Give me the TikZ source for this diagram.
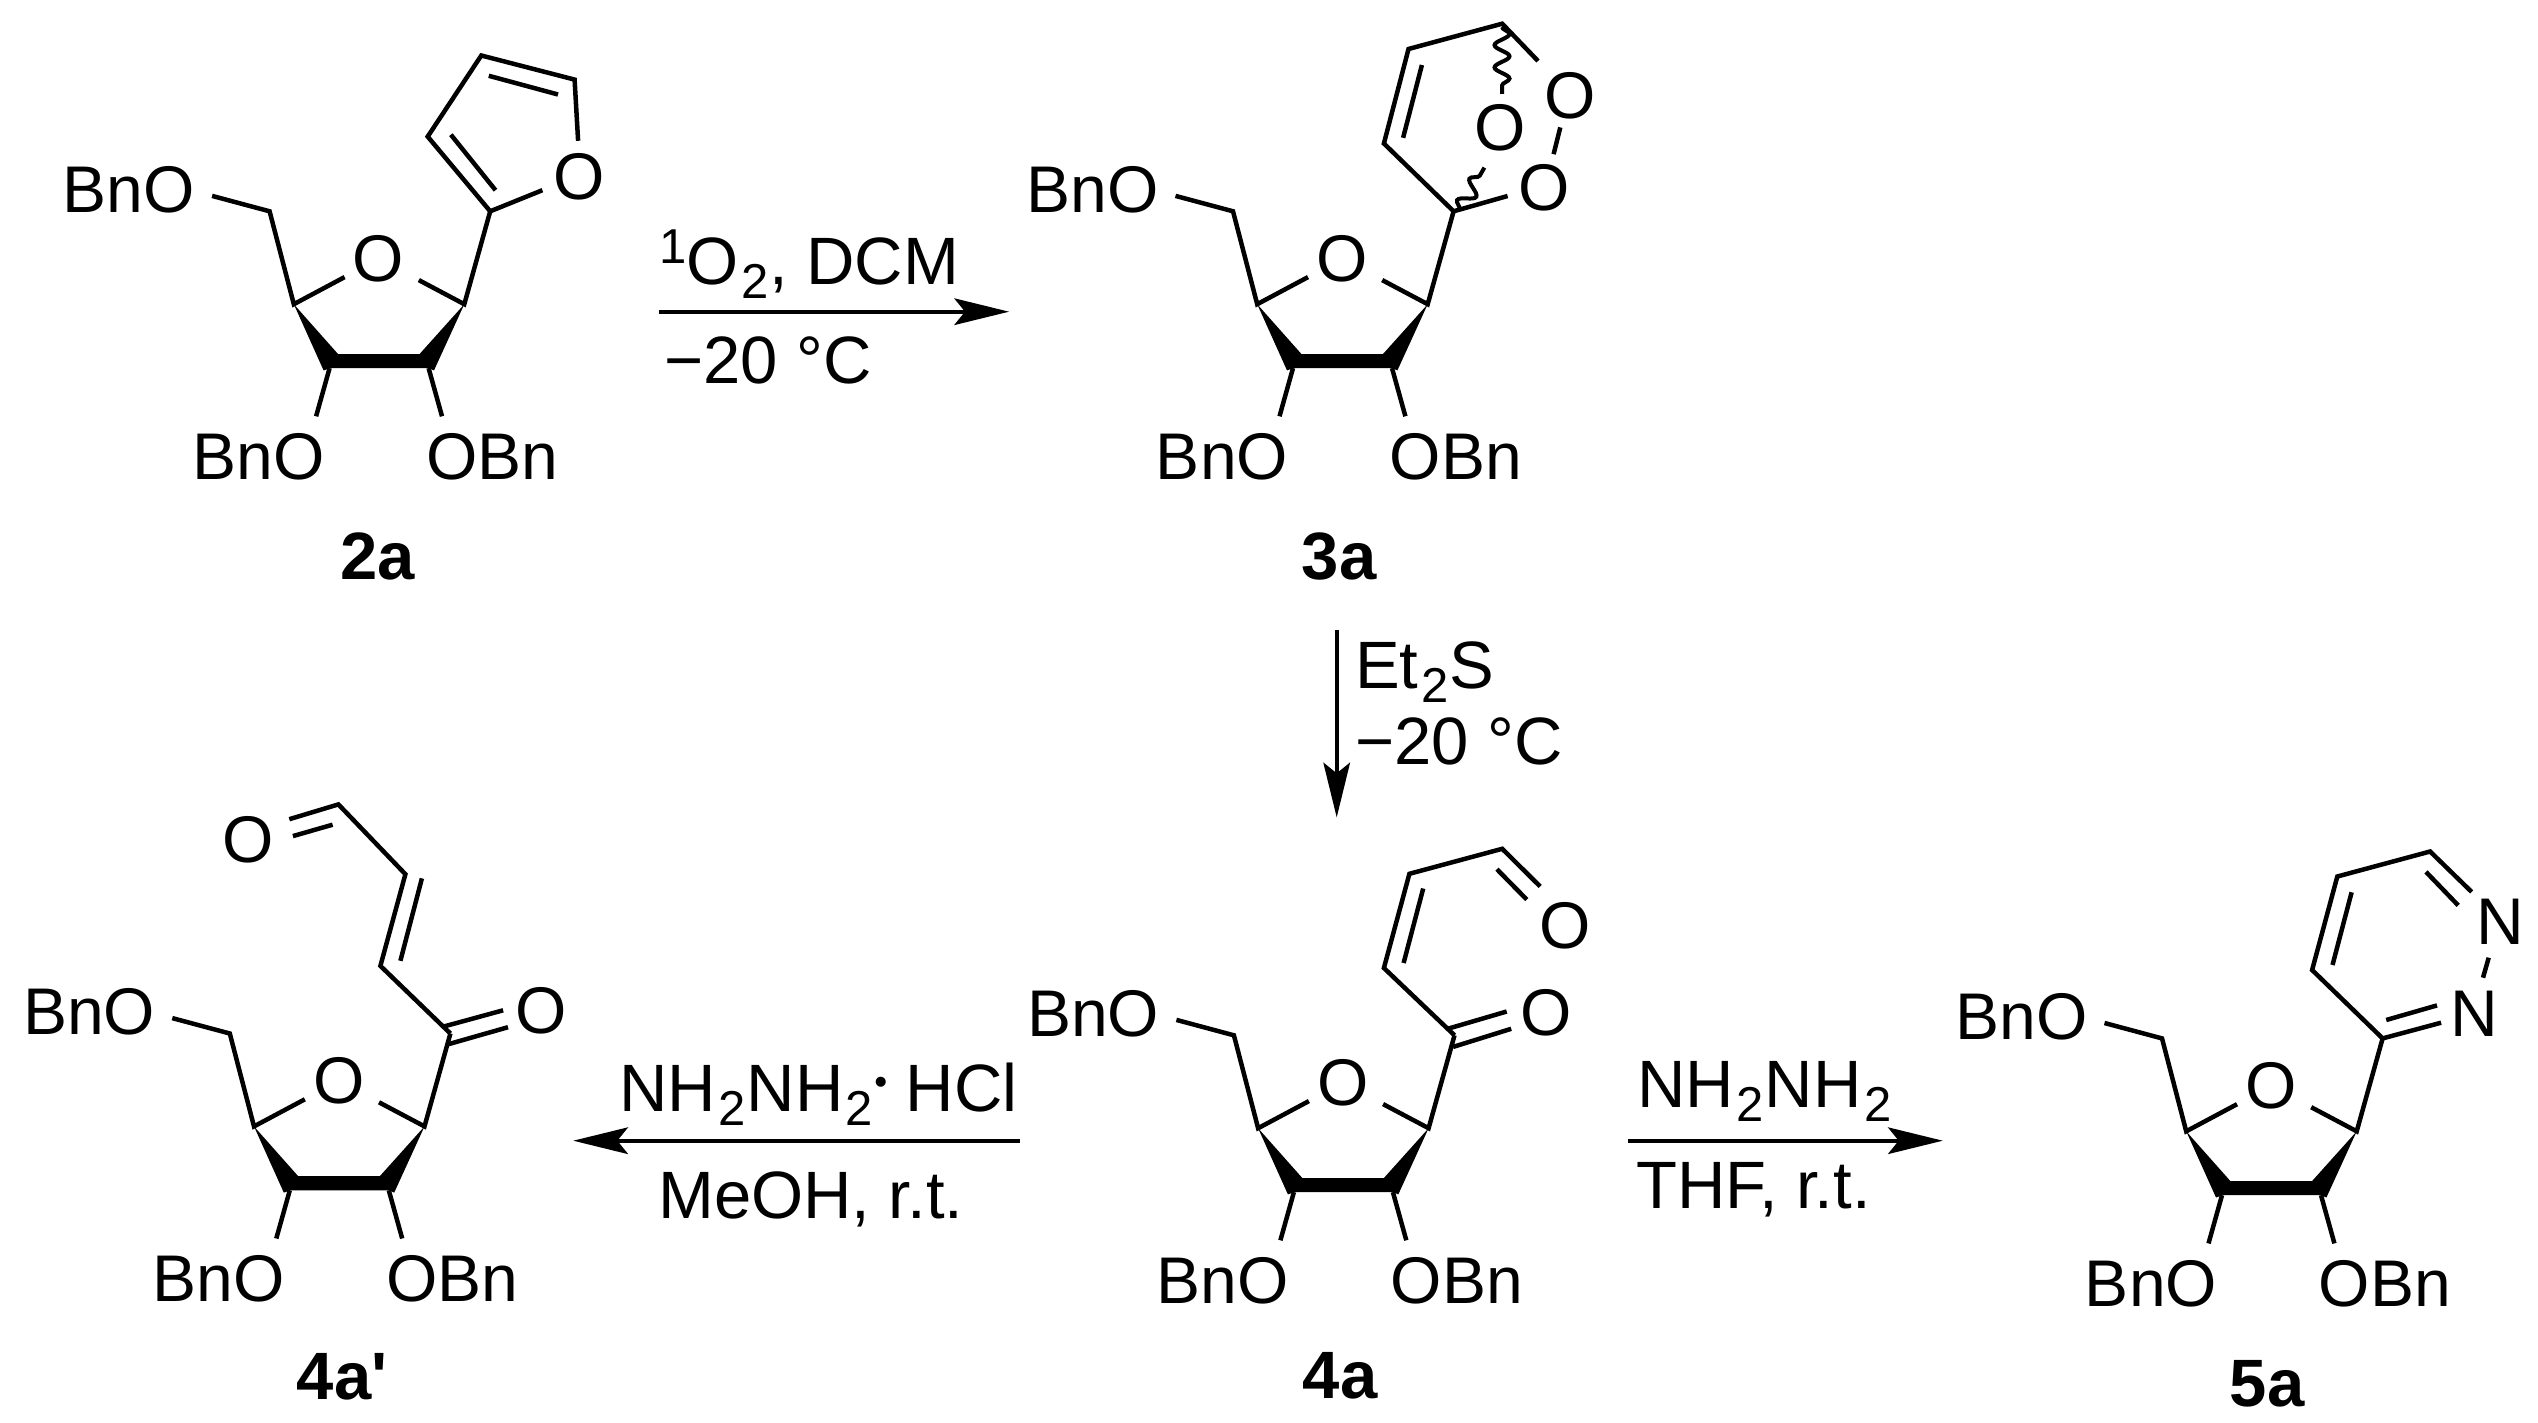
\documentclass[tikz,border=0pt]{standalone}
\usepackage{fontspec}
\setmainfont{Liberation Sans}
\newfontfamily\primefont{Liberation Sans}
\usetikzlibrary{arrows.meta, decorations.pathmorphing}
\newcommand{\subtwo}{\kern2.5pt\raisebox{-14pt}{\fontsize{49}{50}\selectfont 2}\kern1pt}
\tikzset{
	atom/.style={inner sep=0pt, font=\fontsize{66}{70}\selectfont},
	reagent/.style={anchor=base west, inner sep=0pt, font=\fontsize{67}{70}\selectfont},
	cpd/.style={inner sep=0pt, font=\fontsize{67}{70}\selectfont\bfseries},
	bond/.style={line width=4.5pt},
	wavy/.style={line width=4pt, decorate, decoration={snake, segment length=22.3pt, amplitude=7.5pt}},
	rxn/.style={line width=4pt, -{Stealth[length=55pt, width=27pt, inset=11pt, line width=0pt]}},
	sugar/.pic={
		\node[atom] (-o) at (0,0) {O};
		\node[atom] (-bnotop) at (-249.6,-69) {BnO};
		\node[atom] (-bno) at (-120,198.5) {BnO};
		\node[atom] (-obn) at (113.8,198.5) {OBn};
		\coordinate (-ch2) at (-109,-47);
		\coordinate (-ch2end) at (-166.5,-62.4);
		\coordinate (-c4) at (-84.8,45.9);
		\coordinate (-ol) at (-34,18.8);
		\coordinate (-or) at (40.2,21.8);
		\coordinate (-c1) at (85.7,45.9);
		\coordinate (-top) at (111.6,-47);
		\coordinate (-c3) at (-49,109.8);
		\coordinate (-c2) at (50,109.8);
		\coordinate (-c3end) at (-62.5,158);
		\coordinate (-c2end) at (63.4,158);
		\draw[bond] (-ch2end) -- (-ch2) -- (-c4) -- (-ol);
		\draw[bond] (-or) -- (-c1) -- (-top);
		\draw[bond] (-c3) -- (-c3end);
		\draw[bond] (-c2) -- (-c2end);
		\fill (-c4) -- (-40.6,95.7) -- (41,95.7) -- (-c1) -- (55.4,112.1) -- (50,109.8) -- (-48.2,109.8) -- (-55,112.1) -- cycle;
	}
}
\begin{document}
\begin{tikzpicture}[x=1pt, y=-1pt]
	\useasboundingbox (0,0) rectangle (2538,1423);

	\pic (two) at (378.6,258.3) {sugar};
	\coordinate (f1) at (427.7,136.6);
	\coordinate (f2) at (481.3,55.5);
	\coordinate (f3) at (574.6,79.6);
	\coordinate (f4) at (578.1,140.8);
	\coordinate (f5) at (542.4,190.2);
	\node[atom] (fo) at (579.5,176.8) {O};
	\draw[bond] (f5) -- (two-top) -- (f1) -- (f2) -- (f3) -- (f4);
	\draw[bond] (450.9,134.7) -- (495.5,190.2);
	\draw[bond] (488.8,75.8) -- (558,94.5);
	\node[cpd] (lab2a) at (377.3,556) {2a};

	\pic (three) at (1342,258.3) {sugar};
	\coordinate (p1) at (1383.9,143.5);
	\coordinate (p2) at (1408.5,49);
	\coordinate (p3) at (1502.2,23.7);
	\coordinate (p4) at (1538,61);
	\coordinate (p5) at (1507.6,196);
	\node[atom] (po1) at (1570,96) {O};
	\node[atom] (po2) at (1544.6,187.5) {O};
	\node[atom] (po3) at (1500,128.2) {O};
	\draw[bond] (p5) -- (three-top) -- (p1) -- (p2) -- (p3) -- (p4);
	\draw[bond] (1421.9,65) -- (1403.1,137.8);
	\draw[bond] (1560.3,127.4) -- (1553.6,154.2);
	\draw[wavy] (1502,27) -- (1502,93.8);
	\draw[wavy, decoration={segment length=24.7pt}] (1459.8,210.5) -- (1484.4,167.6);
	\node[cpd] (lab3a) at (1339,556) {3a};

	\pic (fourp) at (338.8,1080.5) {sugar};
	\coordinate (q1) at (380.4,965.9);
	\coordinate (q2) at (405.4,874.2);
	\coordinate (q3) at (338.4,804.4);
	\coordinate (q4) at (289.3,819.2);
	\node[atom] (qo1) at (541.5,1010.5) {O};
	\node[atom] (qo2) at (247.8,840) {O};
	\draw[bond] (fourp-top) -- (q1) -- (q2) -- (q3) -- (q4);
	\draw[bond] (421.9,878.4) -- (400.4,960.8);
	\draw[bond] (332.6,824.7) -- (292.9,836.1);
	\draw[bond] (444.2,1026.4) -- (503.1,1010.3);
	\draw[bond] (448.7,1044.1) -- (508,1027.2);
	\node[cpd] (lab4ap) at (342,1377) {4a{\primefont\bfseries '}};

	\pic (four) at (1342.9,1082.3) {sugar};
	\coordinate (r1) at (1383.9,968);
	\coordinate (r2) at (1409.4,873.8);
	\coordinate (r3) at (1502.2,848.8);
	\coordinate (r4) at (1540.2,886.5);
	\node[atom] (ro1) at (1546,1012.5) {O};
	\node[atom] (ro2) at (1564.7,925.5) {O};
	\draw[bond] (four-top) -- (r1) -- (r2) -- (r3) -- (r4);
	\draw[bond] (1423.2,888.5) -- (1403.6,963);
	\draw[bond] (1496.9,869.2) -- (1526.8,899.6);
	\draw[bond] (1448.7,1028.5) -- (1506.7,1011.5);
	\draw[bond] (1453.1,1046.9) -- (1511.2,1028.8);
	\node[cpd] (lab4a) at (1340,1375.5) {4a};

	\pic (five) at (2271,1085.4) {sugar};
	\coordinate (s1) at (2312.1,970);
	\coordinate (s2) at (2337.3,876.5);
	\coordinate (s3) at (2430.1,851.5);
	\coordinate (s4) at (2471.6,891.9);
	\coordinate (s5) at (2441.1,1022.7);
	\node[atom] (sn1) at (2500,922) {N};
	\node[atom] (sn2) at (2474.5,1014.2) {N};
	\draw[bond] (s5) -- (five-top) -- (s1) -- (s2) -- (s3) -- (s4);
	\draw[bond] (2351.6,892.3) -- (2332.5,965);
	\draw[bond] (2426,871.9) -- (2458.2,905.4);
	\draw[bond] (2488.7,957.7) -- (2483,977.7);
	\draw[bond] (2386.2,1020) -- (2437,1005.4);
	\node[cpd] (lab5a) at (2267,1384) {5a};

	\coordinate (a1s) at (659,311.7);
	\coordinate (a1e) at (1009,311.7);
	\coordinate (a2s) at (1336.7,630);
	\coordinate (a2e) at (1336.7,817.3);
	\coordinate (a3s) at (1020,1140.7);
	\coordinate (a3e) at (573.3,1140.7);
	\coordinate (a4s) at (1628.3,1140.7);
	\coordinate (a4e) at (1942.7,1140.7);
	\draw[rxn] (a1s) -- (a1e);
	\draw[rxn] (a2s) -- (a2e);
	\draw[rxn] (a3s) -- (a3e);
	\draw[rxn] (a4s) -- (a4e);

	\node[reagent] (re1) at (659,285) {\raisebox{21.7pt}{\fontsize{49}{50}\selectfont 1}O\subtwo, DCM};
	\node[reagent] (re2) at (664,383) {−20 °C};
	\node[reagent] (re3) at (1355,688.3) {Et\subtwo S};
	\node[reagent] (re4) at (1355,764) {−20 °C};
	\node[reagent] (re5) at (619,1111) {NH\subtwo NH\subtwo\raisebox{17pt}{\fontsize{37}{40}\selectfont •} HCl};
	\node[reagent] (re6) at (658,1218.3) {MeOH, r.t.};
	\node[reagent] (re7) at (1637,1107.7) {NH\subtwo NH\subtwo};
	\node[reagent] (re8) at (1636,1208.3) {THF, r.t.};
\end{tikzpicture}
\end{document}
